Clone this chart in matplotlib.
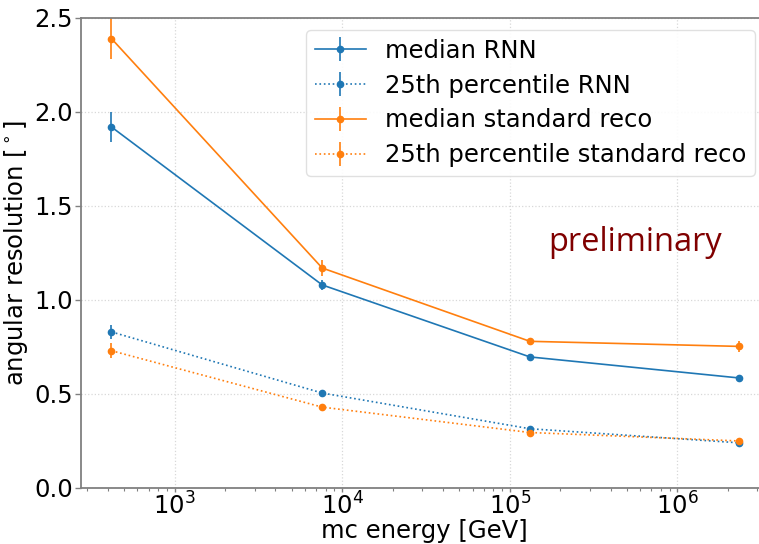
import matplotlib
matplotlib.use('Agg')
import matplotlib.pyplot as plt
import numpy as np

# energy bins (GeV) and resolution values
energy = [420, 7600, 1.32e5, 2.35e6]

median_rnn = [1.92, 1.08, 0.697, 0.585]
median_rnn_err = [0.08, 0.025, 0.01, 0.01]
p25_rnn = [0.83, 0.505, 0.315, 0.24]
p25_rnn_err = [0.035, 0.01, 0.008, 0.01]

median_std = [2.39, 1.17, 0.78, 0.753]
median_std_err = [0.11, 0.04, 0.015, 0.03]
p25_std = [0.73, 0.43, 0.295, 0.25]
p25_std_err = [0.04, 0.01, 0.008, 0.01]

plt.rcParams['font.family'] = ['DejaVu Sans']
fs = 17.5

fig = plt.figure(figsize=(7.59, 5.44), dpi=100)
ax = fig.add_axes([0.107, 0.103, 0.904, 0.864])

blue = '#1f77b4'
orange = '#ff7f0e'
kw = dict(marker='o', markersize=4.5, lw=1.2, elinewidth=1.2, capsize=0)

ax.errorbar(energy, median_rnn, yerr=median_rnn_err, color=blue, ls='-', label='median RNN', **kw)
ax.errorbar(energy, p25_rnn, yerr=p25_rnn_err, color=blue, ls=':', label='25th percentile RNN', **kw)
ax.errorbar(energy, median_std, yerr=median_std_err, color=orange, ls='-', label='median standard reco', **kw)
ax.errorbar(energy, p25_std, yerr=p25_std_err, color=orange, ls=':', label='25th percentile standard reco', **kw)

ax.set_xscale('log')
ax.set_xlim(277, 3.45e6)
ax.set_ylim(0, 2.5)
ax.set_yticks([0, 0.5, 1.0, 1.5, 2.0, 2.5])

ax.grid(True, which='major', ls=':', color='#d8d8d8', lw=0.9)
for s in ax.spines.values():
    s.set_color('#808080')
    s.set_linewidth(1.3)
ax.tick_params(axis='both', which='major', labelsize=fs, color='#808080', length=4, width=1, pad=2)
ax.tick_params(axis='x', which='major', length=3, pad=0.5)
ax.tick_params(axis='x', which='minor', color='#808080', length=2.5, width=0.8)

ax.set_xlabel('mc energy [GeV]', fontsize=fs, labelpad=-1)
ax.set_ylabel(r'angular resolution [$^\circ$]', fontsize=fs, labelpad=3)

leg = ax.legend(loc='upper right', fontsize=fs, framealpha=0.9, edgecolor='#dddddd',
                handlelength=2.1, handletextpad=0.8, borderpad=0.35, labelspacing=0.45)

ax.text(0.808, 0.523, 'preliminary', transform=ax.transAxes, color='#800000',
        fontsize=23.5, family=['Open Sans', 'DejaVu Sans'], ha='center', va='center')

fig.savefig('out.png', dpi=100)
